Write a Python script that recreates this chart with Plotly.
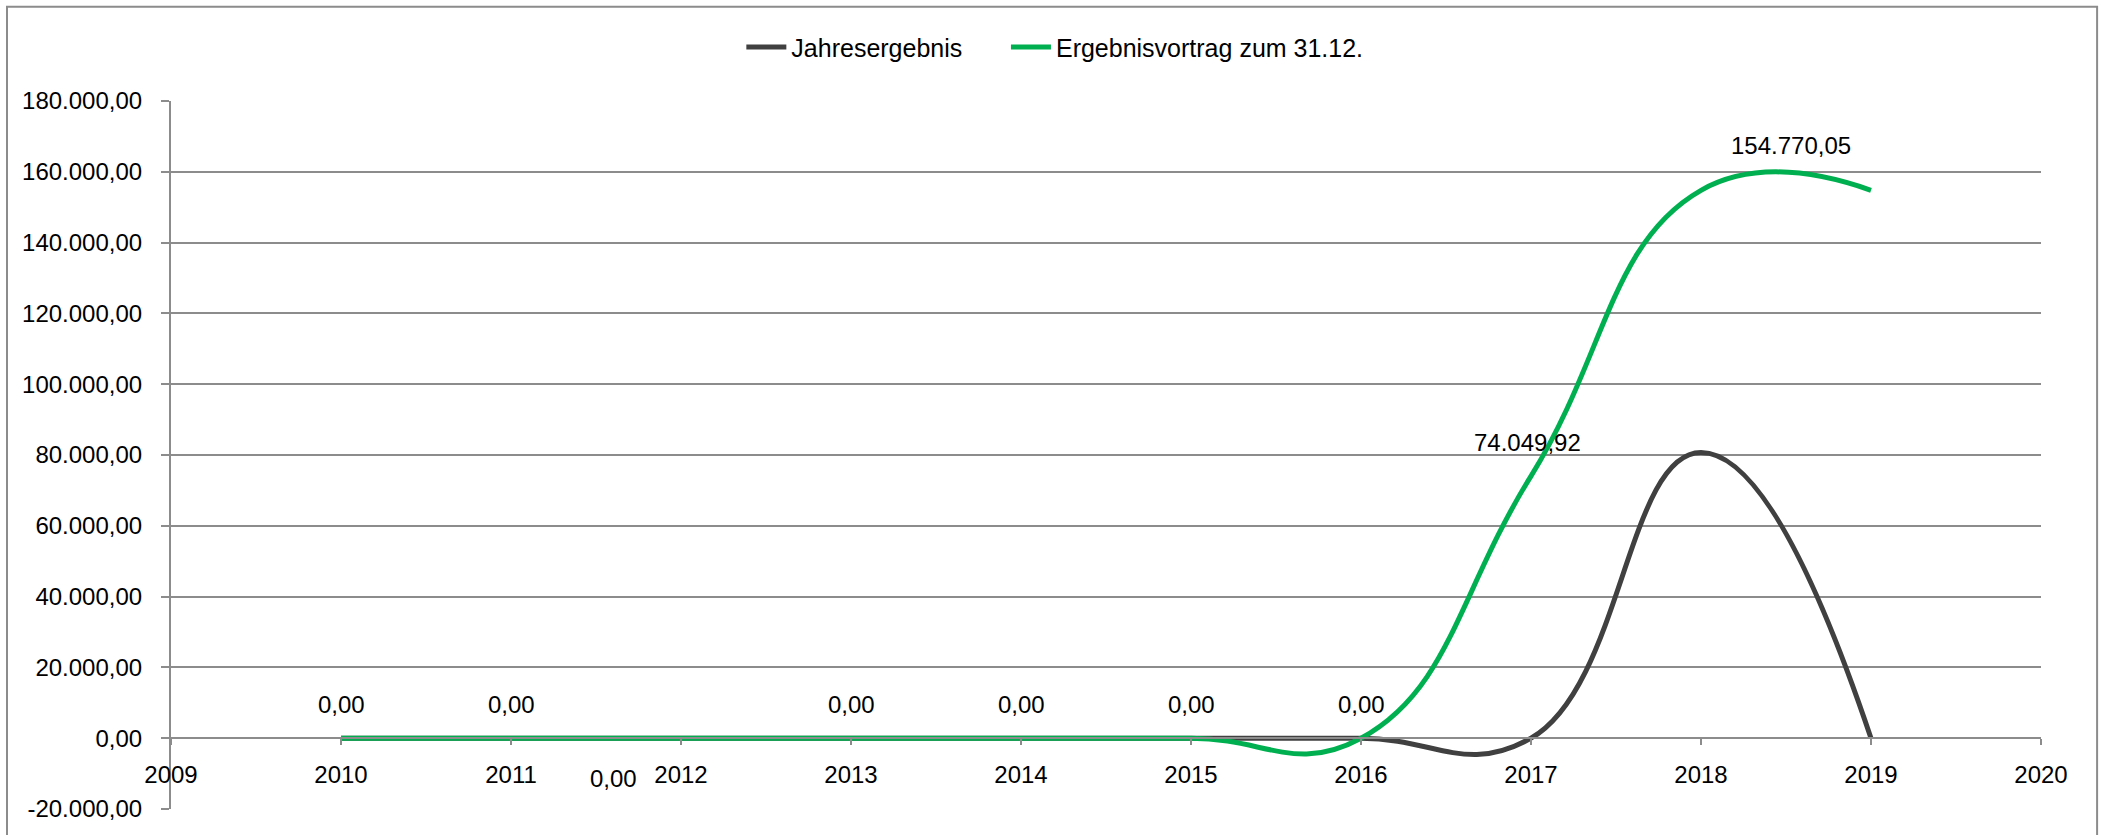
import plotly.graph_objects as go

years = [2010, 2011, 2012, 2013, 2014, 2015, 2016, 2017, 2018, 2019]
jahresergebnis = [0, 0, 0, 0, 0, 0, 0, 0, 80720.13, 0]
ergebnisvortrag = [0, 0, 0, 0, 0, 0, 0, 74049.92, 154770.05, 154770.05]

y_ticks = [-20000, 0, 20000, 40000, 60000, 80000, 100000, 120000, 140000, 160000, 180000]
x_ticks = list(range(2009, 2021))

# data labels (green series), with per-label offsets in pixels
label_years = [2010, 2011, 2012, 2013, 2014, 2015, 2016, 2017, 2019]
label_dx = [0, 0, -68, 0, 0, 0, 0, -4, -80]
label_dy = [-34, -34, 40, -34, -34, -34, -34, -34, -45]


def de_fmt(v):
    s = f"{v:,.2f}"
    return s.replace(",", "X").replace(".", ",").replace("X", ".")


FONT = "Liberation Sans, Arial, sans-serif"
GRID = "#8c8c8c"
FS = 24

fig = go.Figure()
fig.add_trace(go.Scatter(
    x=years, y=jahresergebnis, name="Jahresergebnis", mode="lines",
    line=dict(color="#404040", width=5, shape="spline", smoothing=1.3),
    legend="legend",
))
fig.add_trace(go.Scatter(
    x=years, y=ergebnisvortrag, name="Ergebnisvortrag zum 31.12.", mode="lines",
    line=dict(color="#00b050", width=5, shape="spline", smoothing=1.3),
    legend="legend2",
))

for yr, dx, dy in zip(label_years, label_dx, label_dy):
    v = ergebnisvortrag[years.index(yr)]
    fig.add_annotation(x=yr, y=v, text=de_fmt(v), showarrow=False,
                       xshift=dx, yshift=-dy, font=dict(family=FONT, size=FS, color="black"))

# chart border
fig.add_shape(type="rect", xref="paper", yref="paper",
              x0=-0.0877, x1=1.03, y0=-0.2, y1=1.133,
              line=dict(color=GRID, width=2), layer="below")

leg_common = dict(orientation="h", yanchor="middle", y=1.076, xanchor="left",
                  font=dict(family=FONT, size=25, color="black"), itemwidth=40,
                  bgcolor="rgba(0,0,0,0)")

fig.update_layout(
    width=2119, height=835,
    margin=dict(l=171, r=78, t=101, b=26, autoexpand=False),
    paper_bgcolor="white", plot_bgcolor="white",
    font=dict(family=FONT, size=FS, color="black"),
    showlegend=True,
    legend=dict(x=0.305, **leg_common),
    legend2=dict(x=0.4465, **leg_common),
    xaxis=dict(range=[2009, 2020], tickvals=x_ticks, ticktext=[str(t) for t in x_ticks],
               showgrid=False, zeroline=False, showline=True, linecolor=GRID, linewidth=2,
               ticks="outside", ticklen=6, tickwidth=2, tickcolor=GRID,
               anchor="free", position=0.1, ticklabelstandoff=9),
    yaxis=dict(range=[-20000, 180000], tickvals=y_ticks, ticktext=[de_fmt(t) for t in y_ticks],
               showgrid=True, gridcolor=GRID, gridwidth=2, zeroline=False,
               showline=True, linecolor=GRID, linewidth=2,
               ticks="outside", ticklen=8, tickwidth=2, tickcolor=GRID,
               ticklabelstandoff=14),
)

fig.write_html("out.html", config={"displayModeBar": False},
               post_script="document.body.style.margin='0';document.body.style.overflow='hidden';")
